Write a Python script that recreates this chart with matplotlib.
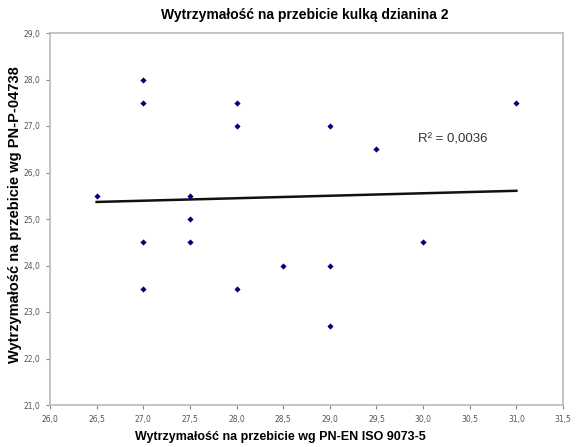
import numpy as np
import matplotlib.pyplot as plt
from matplotlib.ticker import FuncFormatter

x_vals = [26.5, 27.0, 27.0, 27.0, 27.0, 27.5, 27.5, 27.5, 28.0, 28.0, 28.0,
          28.5, 29.0, 29.0, 29.0, 29.5, 30.0, 31.0]
y_vals = [25.5, 28.0, 27.5, 24.5, 23.5, 25.5, 25.0, 24.5, 27.5, 27.0, 23.5,
          24.0, 27.0, 24.0, 22.7, 26.5, 24.5, 27.5]
x_ticks = np.arange(26.0, 31.51, 0.5)
y_ticks = np.arange(21.0, 29.01, 1.0)

narrow = ['Liberation Sans Narrow', 'Liberation Sans', 'DejaVu Sans']

fig = plt.figure(figsize=(5.85, 4.47), dpi=100)
ax = fig.add_axes([50/585, 42/447, 513/585, 372/447])

ax.scatter(x_vals, y_vals, s=10, color='#00007a', marker='D', zorder=3, linewidths=0)

# linia trendu liczona z danych
coef = np.polyfit(x_vals, y_vals, 1)
xl = np.array([min(x_vals), max(x_vals)])
ax.plot(xl, np.polyval(coef, xl), color='#111111', lw=1.8, zorder=2)

ax.text(29.95, 26.7, 'R² = 0,0036', fontsize=9.5, color='#333333',
        family=narrow, va='center')

ax.set_xlim(26.0, 31.5)
ax.set_ylim(21.0, 29.0)
ax.set_xticks(x_ticks)
ax.set_yticks(y_ticks)
fmt = FuncFormatter(lambda v, p: f'{v:.1f}'.replace('.', ','))
ax.xaxis.set_major_formatter(fmt)
ax.yaxis.set_major_formatter(fmt)
ax.tick_params(labelsize=5.5, colors='#888888', length=3, width=0.8, pad=4)
for lab in ax.get_xticklabels() + ax.get_yticklabels():
    lab.set_color('#555555')
for s in ax.spines.values():
    s.set_color('#bbbbbb')
    s.set_linewidth(1.2)

fig.text(305/585, 1 - 15/447, 'Wytrzymałość na przebicie kulką dzianina 2',
         ha='center', va='center', fontsize=10, fontweight='bold', family=narrow)
fig.text(280/585, 1 - 437/447, 'Wytrzymałość na przebicie wg PN-EN ISO 9073-5',
         ha='center', va='center', fontsize=9, fontweight='bold', family=narrow)
fig.text(15/585, 1 - 215/447, 'Wytrzymałość na przebicie wg PN-P-04738',
         ha='center', va='center', rotation=90, fontsize=10.5, fontweight='bold',
         family='Liberation Sans')

fig.savefig('out.png', dpi=100)
